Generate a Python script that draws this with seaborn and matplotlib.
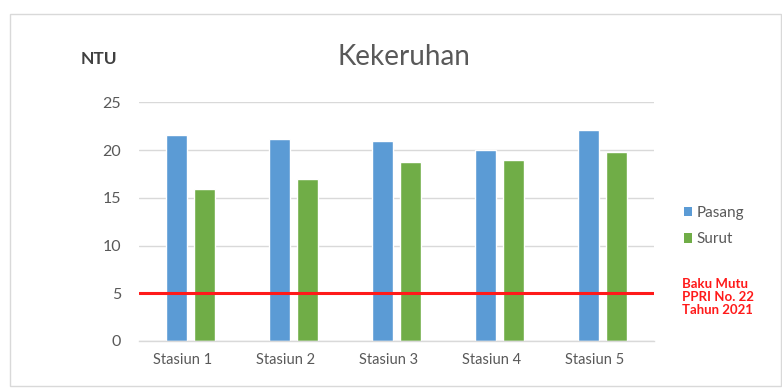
import matplotlib
matplotlib.use("Agg")
import matplotlib.pyplot as plt
import matplotlib.transforms as mtransforms
import seaborn as sns
import pandas as pd
from matplotlib.patches import Rectangle, Patch

categories = ["Stasiun 1", "Stasiun 2", "Stasiun 3", "Stasiun 4", "Stasiun 5"]
pasang = [21.6, 21.2, 20.9, 20.0, 22.1]
surut = [15.9, 17.0, 18.7, 19.0, 19.8]
series_names = ["Pasang", "Surut"]
baku_mutu = 5
yticks = [0, 5, 10, 15, 20, 25]

df = pd.DataFrame({
    "Stasiun": categories * 2,
    "Tipe": [series_names[0]] * len(categories) + [series_names[1]] * len(categories),
    "NTU": pasang + surut,
})

sns.set_theme(style="white")
plt.rcParams["font.family"] = ["Lato", "DejaVu Sans"]

W, H = 782, 390
fig = plt.figure(figsize=(W / 100, H / 100), dpi=100)
left, right, bottom, top = 139, 654, 341, 102.3
ax = fig.add_axes([left / W, 1 - bottom / H, (right - left) / W, (bottom - top) / H])

colors = {"Pasang": "#5B9BD5", "Surut": "#70AD47"}
sns.barplot(data=df, x="Stasiun", y="NTU", hue="Tipe", palette=colors,
            width=0.546, gap=0.23, ax=ax, legend=False, saturation=1)

ax.set_ylim(0, 25)
ax.set_xlim(-0.5, len(categories) - 0.5)
ax.set_yticks(yticks)
ax.set_yticklabels([str(v) for v in yticks])
ax.yaxis.grid(True, color="#D9D9D9", linewidth=1)
ax.set_axisbelow(True)
for s in ["left", "right", "top"]:
    ax.spines[s].set_visible(False)
ax.spines["bottom"].set_color("#D9D9D9")
ax.spines["bottom"].set_linewidth(1)
ax.tick_params(axis="y", length=0, colors="#595959", labelsize=11.5, pad=13)
ax.tick_params(axis="x", length=0, colors="#595959", labelsize=10.5, pad=9)
ax.set_xlabel("")
ax.set_ylabel("")

# Category labels sit slightly left of the bar pairs in the reference
offset = mtransforms.ScaledTranslation(-8 / 100, 0, fig.dpi_scale_trans)
for lbl in ax.get_xticklabels():
    lbl.set_transform(lbl.get_transform() + offset)

ax.axhline(baku_mutu, color="#FF1A1A", linewidth=2.2, zorder=5)

fig.text(404 / W, 1 - 57 / H, "Kekeruhan", ha="center", va="center",
         fontsize=20, color="#595959")
fig.text(99 / W, 1 - 59 / H, "NTU", ha="center", va="center",
         fontsize=12.5, color="#404040", fontweight="bold")

handles = [Patch(facecolor=colors[n], edgecolor="none", label=n) for n in series_names]
fig.legend(handles=handles, loc="center left", bbox_to_anchor=(670 / W, 1 - 226 / H),
           frameon=False, fontsize=11, handlelength=0.55, handleheight=0.55,
           handletextpad=0.3, labelspacing=0.85, labelcolor="#595959")

fig.text(682 / W, 1 - 297 / H, "Baku Mutu\nPPRI No. 22\nTahun 2021", ha="left", va="center",
         fontsize=9.5, color="#FF1A1A", fontweight="bold", linespacing=1.15)

fig.patches.append(Rectangle((10 / W, 1 - 386 / H), (781 - 10) / W, (386 - 14) / H,
                             transform=fig.transFigure, fill=False,
                             edgecolor="#D9D9D9", linewidth=1))

fig.savefig("out.png", dpi=100)
